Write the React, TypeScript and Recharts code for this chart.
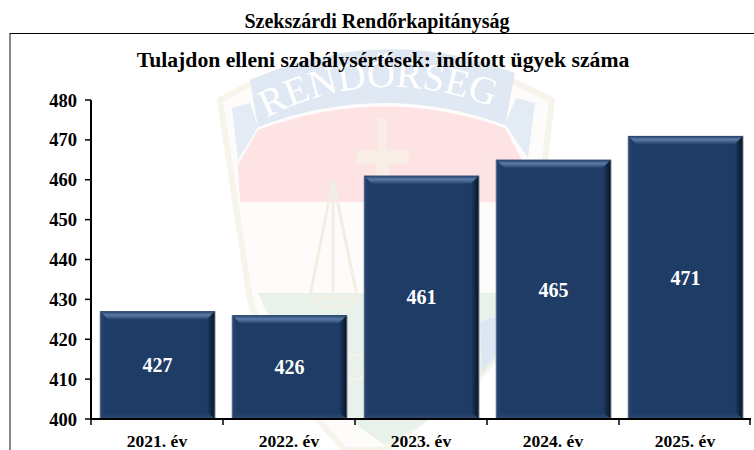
import { BarChart, Bar, XAxis, YAxis, LabelList } from "recharts";

const years = ["2021. év", "2022. év", "2023. év", "2024. év", "2025. év"];
const cases = [427, 426, 461, 465, 471];
const yTicks = [400, 410, 420, 430, 440, 450, 460, 470, 480];

const data = years.map((year, i) => ({ year, cases: cases[i] }));

const FONT = '"Liberation Serif", "Times New Roman", serif';
const WIDTH = 754;
const HEIGHT = 450;
const PLOT_LEFT = 91;
const PLOT_RIGHT = 751;
const BAND = (PLOT_RIGHT - PLOT_LEFT) / years.length;

function BevelBar(props: any) {
  const { x, y, width: w, height: h } = props;
  const b = 8;
  const r = x + w;
  const d = y + h;
  return (
    <g>
      <rect x={x} y={y} width={w} height={h} fill="#1e3c66" />
      <polygon points={`${x},${y} ${r},${y} ${r - b},${y + b} ${x + b},${y + b}`} fill="url(#bevelTop)" />
      <polygon points={`${r},${y} ${r},${d} ${r - b},${d - 6} ${r - b},${y + b}`} fill="url(#bevelRight)" />
      <polygon points={`${x},${y} ${x},${d} ${x + 5},${d - 6} ${x + 5},${y + b}`} fill="url(#bevelLeft)" />
      <polygon points={`${x},${d} ${r},${d} ${r - b},${d - 6} ${x + 5},${d - 6}`} fill="url(#bevelBottom)" />
      <line x1={r} y1={y} x2={r} y2={d} stroke="#7d8794" strokeWidth={1} />
      <line x1={x} y1={y} x2={x} y2={d} stroke="#8d9bb0" strokeWidth={0.8} />
    </g>
  );
}

function YearTick(props: any) {
  const { x, y, payload, index } = props;
  const last = index === years.length - 1;
  const top = y - 8; // recharts hands over the tick y below the axis line
  return (
    <g>
      <line x1={x - BAND / 2} y1={top} x2={x - BAND / 2} y2={top + 6} stroke="#000" strokeWidth={1.5} />
      {last && <line x1={x + BAND / 2 - 1} y1={top} x2={x + BAND / 2 - 1} y2={top + 6} stroke="#000" strokeWidth={1.5} />}
      <text x={x} y={top + 28} textAnchor="middle" fontFamily={FONT} fontWeight={700} fontSize={17.5} fill="#000">
        {payload.value}
      </text>
    </g>
  );
}

// faint police crest behind the plot
function Crest() {
  return (
    <svg width={WIDTH} height={HEIGHT} style={{ position: "absolute", left: 0, top: 0 }}>
      <defs>
        <path id="crestArc" d="M 266 118 Q 382 58 510 114" fill="none" />
      </defs>
      <path
        d="M 220 100 Q 380 8 552 100 L 533 262 Q 515 350 470 385 L 385 450 L 345 450 Q 270 370 250 300 Z"
        fill="#fdfcfa"
        stroke="#f7f4ec"
        strokeWidth={6}
      />
      <path d="M 238 160 L 232 108 L 250 103 L 258 127 Z" fill="#e3ebf5" />
      <path d="M 535 103 L 516 98 L 505 124 L 528 158 Z" fill="#e3ebf5" />
      <path d="M 250 80 Q 382 22 515 73 L 505 125 Q 382 80 258 127 Z" fill="#dfe8f3" />
      <path d="M 240 202 L 238 165 L 258 130 Q 382 84 505 128 L 522 160 L 505 202 Z" fill="#fde3e3" />
      <path d="M 258 293 L 512 293 L 505 345 Q 470 400 385 445 Q 300 390 258 293 Z" fill="#e8f2eb" />
      <path d="M 480 322 Q 500 315 506 318 L 500 350 L 482 372 Z" fill="#dde6f3" />
      <path
        d="M 378 118 H 387 V 150 H 409 V 164 H 389 V 202 H 376 V 164 H 357 V 150 H 378 Z"
        fill="#f9eee6"
      />
      <g fill="none" stroke="#f1eee4" strokeWidth={3}>
        <path d="M 333 180 L 310 296 M 333 180 L 357 296 M 333 180 V 300" />
        <path d="M 310 298 Q 333 318 358 298 Z" />
      </g>
      <text fontFamily={FONT} fontSize={39} fill="#ffffff">
        <textPath href="#crestArc">RENDŐRSÉG</textPath>
      </text>
      <text x={340} y={380} fontFamily={FONT} fontSize={40} fill="#f6f3ea">
        O
      </text>
    </svg>
  );
}

export default function App() {
  return (
    <div
      style={{
        position: "absolute",
        left: 0,
        top: 0,
        width: WIDTH,
        height: HEIGHT,
        overflow: "hidden",
        background: "#fff",
        fontFamily: FONT,
      }}
    >
      <Crest />
      <div style={{ position: "absolute", left: 9, top: 33, right: 0, bottom: 0, borderTop: "1px solid #000", borderLeft: "2px solid #8a8a8a" }} />
      <div style={{ position: "absolute", left: 0, width: WIDTH, top: 10, textAlign: "center", fontWeight: 700, fontSize: 20, lineHeight: "22px", color: "#000" }}>
        Szekszárdi Rendőrkapitányság
      </div>
      <div style={{ position: "absolute", left: 0, width: 766, top: 48, textAlign: "center", fontWeight: 700, fontSize: 21.7, lineHeight: "24px", color: "#000", whiteSpace: "nowrap" }}>
        Tulajdon elleni szabálysértések: indított ügyek száma
      </div>
      <div style={{ position: "absolute", left: 0, top: 0 }}>
        <BarChart
          width={WIDTH}
          height={HEIGHT}
          data={data}
          margin={{ top: 100, right: WIDTH - PLOT_RIGHT, bottom: 0, left: 0 }}
        >
          <defs>
            <linearGradient id="bevelTop" x1="0" y1="0" x2="0" y2="1">
              <stop offset="0%" stopColor="#213f69" />
              <stop offset="45%" stopColor="#5a7aa5" />
              <stop offset="100%" stopColor="#27466f" />
            </linearGradient>
            <linearGradient id="bevelRight" x1="0" y1="0" x2="1" y2="0">
              <stop offset="0%" stopColor="#1e3c66" />
              <stop offset="100%" stopColor="#081320" />
            </linearGradient>
            <linearGradient id="bevelLeft" x1="0" y1="0" x2="1" y2="0">
              <stop offset="0%" stopColor="#2a4872" />
              <stop offset="100%" stopColor="#1e3c66" />
            </linearGradient>
            <linearGradient id="bevelBottom" x1="0" y1="0" x2="0" y2="1">
              <stop offset="0%" stopColor="#1e3c66" />
              <stop offset="100%" stopColor="#2f4c72" />
            </linearGradient>
          </defs>
          <XAxis
            dataKey="year"
            height={31}
            tickLine={false}
            axisLine={{ stroke: "#000", strokeWidth: 2 }}
            tick={<YearTick />}
            interval={0}
          />
          <YAxis
            width={PLOT_LEFT}
            domain={[400, 480]}
            ticks={yTicks}
            interval={0}
            tickSize={6}
            tickMargin={8}
            axisLine={{ stroke: "#000", strokeWidth: 2 }}
            tickLine={{ stroke: "#000", strokeWidth: 1.5 }}
            tick={{ fill: "#000", fontSize: 18.5, fontWeight: 700, fontFamily: FONT }}
          />
          <Bar dataKey="cases" barSize={115} shape={<BevelBar />} isAnimationActive={false}>
            <LabelList
              dataKey="cases"
              position="center"
              fill="#fff"
              fontSize={20}
              fontWeight={700}
              fontFamily={FONT}
            />
          </Bar>
        </BarChart>
      </div>
    </div>
  );
}
